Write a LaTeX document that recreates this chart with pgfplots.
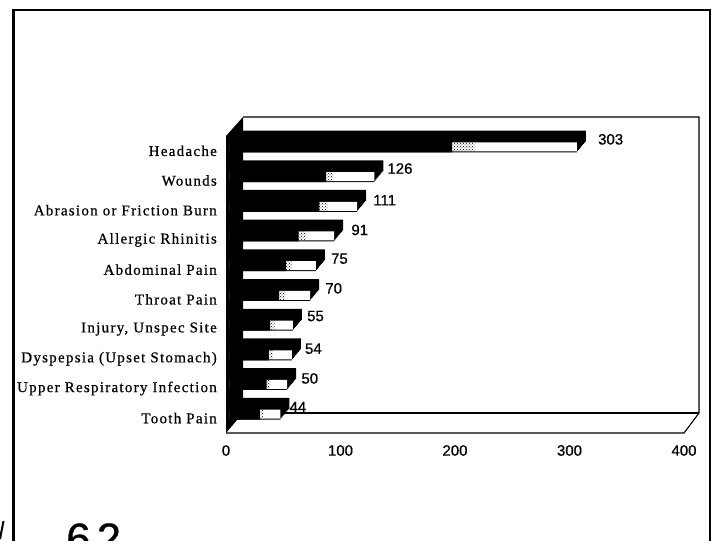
\documentclass[border=0pt]{standalone}
\usepackage{fontspec}
\setmainfont{Liberation Sans}
\newfontfamily\lab[LetterSpace=8.5,FakeBold=0.6]{Liberation Serif}
\newfontfamily\val[FakeBold=0.7]{Liberation Sans}
\usepackage{pgfplots}
\usepackage{pgfplotstable}
\pgfplotsset{compat=1.18}
\usetikzlibrary{patterns}
\pgfplotstableread{
y v start dark dx dy
0 303 214 194 25 11.5
1 126 90 84 17 12
2 111 85 78 20 10
3 91 67 60 21 10
4 75 54 49 19 11
5 70 48 43 19 11
6 55 39 35 18 13
7 54 37.5 34 17 10
8 50 35 32 18 10
9 44 29 26 13 11
}\datatable
\begin{document}
\begin{tikzpicture}[x=1pt,y=1pt]
\clip (0,0) rectangle (713,541);
\path (0,0) rectangle (713,541);
% outer frame
\draw[line width=2.6pt] (13.5,-10) -- (13.5,531) -- (710,531) -- (710,-10);
% stray marks of the scan
\draw[line width=2pt] (3.5,20) -- (0,2);
\node[anchor=base west,inner sep=0pt,font=\fontsize{44}{44}\val] at (66,-13) {6\kern6pt 2};
% 3D frame: back wall and floor
\draw[line width=1.1pt] (243,424) -- (699,424) -- (699,128) -- (684,108) -- (226,108);
\draw[line width=1.1pt] (243,128) -- (699,128);
\fill (226,405) -- (243,424) -- (243,128) -- (226,108) -- cycle;
\begin{axis}[
  at={(226pt,108pt)}, anchor=south west,
  width=458pt, height=297pt, scale only axis,
  xmin=0, xmax=400, ymin=-0.5, ymax=9.5, y dir=reverse,
  clip=false,
  axis line style={draw=none},
  xtick={0,100,200,300,400},
  ytick={0,1,...,9},
  yticklabels={Headache,Wounds,Abrasion or Friction Burn,Allergic Rhinitis,Abdominal Pain,Throat Pain,{Injury, Unspec Site},Dyspepsia (Upset Stomach),Upper Respiratory Infection,Tooth Pain},
  tick style={draw=none},
  x tick label style={font=\fontsize{15}{15}\val, inner sep=0pt},
  y tick label style={font=\fontsize{15}{15}\lab, inner sep=0pt, anchor=east},
  xticklabel style={yshift=-12pt},
  yticklabel style={xshift=-9pt},
  /pgf/number format/assume math mode=true,
]
\pgfplotsinvokeforeach{9,8,...,0}{
  \addplot[xbar, bar width=11pt, bar shift=0pt, fill=black, draw=none, xshift={4pt+#1*1pt}, yshift={4pt+#1*1.2pt}, forget plot] table[x=v,y=y] {\datatable};
}
\addplot[xbar, bar width=9pt, bar shift=0pt, fill=white, draw=none, xshift=4pt, yshift=4pt, forget plot] table[x=v,y=y] {\datatable};
\addplot[xbar, bar width=9pt, bar shift=0pt, pattern=crosshatch dots, pattern color=black, draw=none, xshift=4pt, yshift=4pt, forget plot] table[x=start,y=y] {\datatable};
\addplot[xbar, bar width=11pt, bar shift=0pt, fill=black, draw=none, xshift=4pt, yshift=4pt, forget plot] table[x=dark,y=y] {\datatable};
\addplot[draw=none, mark=none, forget plot, point meta=x,
  visualization depends on={\thisrow{dx} \as \dx},
  visualization depends on={\thisrow{dy} \as \dy},
  nodes near coords,
  nodes near coords style={anchor=west, inner sep=0pt, font=\fontsize{15}{15}\val, xshift=\dx pt, yshift=\dy pt, /pgf/number format/assume math mode=true},
] table[x=v,y=y] {\datatable};
\end{axis}
\end{tikzpicture}
\end{document}
